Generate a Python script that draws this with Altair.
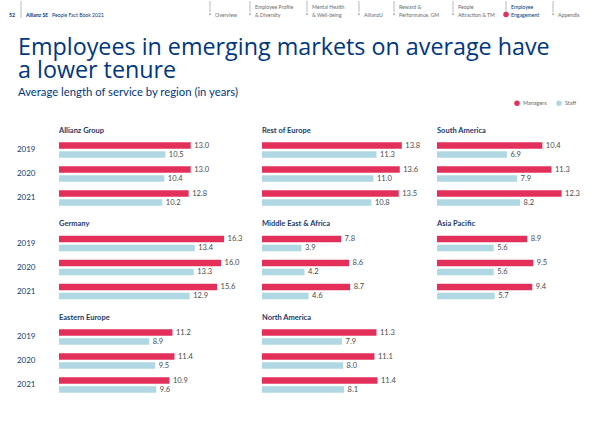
import altair as alt
import pandas as pd

# ---------------- data ----------------
regions = ["Allianz Group", "Rest of Europe", "South America",
           "Germany", "Middle East & Africa", "Asia Pacific",
           "Eastern Europe", "North America"]
years = ["2019", "2020", "2021"]
series = ["Managers", "Staff"]
managers = [
    [13.0, 13.0, 12.8],
    [13.8, 13.6, 13.5],
    [10.4, 11.3, 12.3],
    [16.3, 16.0, 15.6],
    [7.8, 8.6, 8.7],
    [8.9, 9.5, 9.4],
    [11.2, 11.4, 10.9],
    [11.3, 11.1, 11.4],
]
staff = [
    [10.5, 10.4, 10.2],
    [11.3, 11.0, 10.8],
    [6.9, 7.9, 8.2],
    [13.4, 13.3, 12.9],
    [3.9, 4.2, 4.6],
    [5.6, 5.6, 5.7],
    [8.9, 9.5, 9.6],
    [7.9, 8.0, 8.1],
]

title_text = "Employees in emerging markets on average have\na lower tenure"
subtitle = "Average length of service by region (in years)"

nav_line1 = ["", "Employee Profile", "Mental Health", "", "Reward &", "People", "Employee", ""]
nav_line2 = ["Overview", "& Diversity", "& Well-being", "AllianzU", "Performance, GM",
             "Attraction & TM", "Engagement", "Appendix"]
nav_active = [False, False, False, False, False, False, True, False]

# ---------------- style ----------------
FONT = "Lato"
TITLE_FONT = "Open Sans"
RED = "#E3305A"
LIGHT = "#AFD8E3"
NAVY = "#003781"
DARK = "#1B3A6B"
GRAY = "#4A4A4A"
NAVGRAY = "#6B6B6B"

PX_PER_UNIT = 10.13
col_widths = [193, 165, 150]
PANEL_H = 72
X0 = 59  # left extent reserved for the year labels; header is aligned on it

# ---------------- header panel ----------------
nav_x = [210, 250, 307, 359, 394, 453, 506, 553]
nav_df = pd.DataFrame({
    "x": nav_x,
    "tx": [v + 5 for v in nav_x],
    "l1": nav_line1,
    "l2": nav_line2,
    "active": nav_active,
})
nav_df["color"] = [NAVY if a else NAVGRAY for a in nav_active]

HW, HH = 600, 112
hx = alt.Scale(domain=[0, HW], range=[-X0, HW - X0])

nav_rules = alt.Chart(nav_df).mark_rule(color="#8A8A8A", strokeWidth=0.6).encode(
    x=alt.X("x:Q", scale=hx, axis=None),
    y=alt.value(0), y2=alt.value(11),
)
nav_pts = alt.Chart(nav_df[~nav_df["active"]]).mark_point(
    shape="triangle-down", filled=True, size=5, color="#555555").encode(
    x=alt.X("x:Q", scale=hx, axis=None), y=alt.value(13.5))
nav_dot = alt.Chart(nav_df[nav_df["active"]]).mark_circle(size=30, color=RED, opacity=1).encode(
    x=alt.X("x:Q", scale=hx, axis=None), y=alt.value(13.5))
nav_t1 = alt.Chart(nav_df).mark_text(align="left", baseline="middle", font=FONT, fontSize=5.2).encode(
    x=alt.X("tx:Q", scale=hx, axis=None), y=alt.value(6), text="l1:N",
    color=alt.Color("color:N", scale=None))
nav_t2 = alt.Chart(nav_df).mark_text(align="left", baseline="middle", font=FONT, fontSize=5.2).encode(
    x=alt.X("tx:Q", scale=hx, axis=None), y=alt.value(13.5), text="l2:N",
    color=alt.Color("color:N", scale=None))

left_df = pd.DataFrame({"x": [9, 26], "t": ["52", "Allianz SE"]})
left_bold = alt.Chart(left_df).mark_text(align="left", baseline="middle", font=FONT, fontSize=5.1,
                                         fontWeight="bold", color=NAVY).encode(
    x=alt.X("x:Q", scale=hx, axis=None), y=alt.value(13.5), text="t:N")
left_plain = alt.Chart(pd.DataFrame({"x": [52], "t": ["People Fact Book 2021"]})).mark_text(
    align="left", baseline="middle", font=FONT, fontSize=5.1, color=NAVY).encode(
    x=alt.X("x:Q", scale=hx, axis=None), y=alt.value(13.5), text="t:N")
left_rule = alt.Chart(pd.DataFrame({"x": [21]})).mark_rule(color="#8A8A8A", strokeWidth=0.6).encode(
    x=alt.X("x:Q", scale=hx, axis=None), y=alt.value(0), y2=alt.value(17))

title_mark = alt.Chart(pd.DataFrame({"t": [title_text]})).mark_text(
    align="left", baseline="alphabetic", font=TITLE_FONT, fontSize=23.3, color=NAVY,
    lineBreak="\n", lineHeight=23.5).encode(
    x=alt.value(18 - X0), y=alt.value(53.5), text="t:N")
sub_mark = alt.Chart(pd.DataFrame({"t": [subtitle]})).mark_text(
    align="left", baseline="alphabetic", font=FONT, fontSize=11.3, color=NAVY).encode(
    x=alt.value(18 - X0), y=alt.value(94.5), text="t:N")

header = alt.layer(nav_rules, nav_pts, nav_dot, nav_t1, nav_t2, left_bold, left_plain,
                   left_rule, title_mark, sub_mark).properties(width=HW - X0, height=HH)

# ---------------- panels ----------------
color_scale = alt.Scale(domain=series, range=[RED, LIGHT])


def panel(i, col):
    rows = []
    for y, m, s in zip(years, managers[i], staff[i]):
        rows.append({"year": y, "series": "Managers", "value": m})
        rows.append({"year": y, "series": "Staff", "value": s})
    df = pd.DataFrame(rows)
    w = col_widths[col]
    xs = alt.Scale(domain=[0, w / PX_PER_UNIT], nice=False, zero=True)
    if col == 0:
        yaxis = alt.Axis(title=None, domain=False, ticks=False, labelPadding=24, minExtent=X0,
                         labelFontSize=8, labelColor=DARK, labelFont=FONT, labelAlign="right")
    else:
        yaxis = None
    base = alt.Chart(df).encode(
        y=alt.Y("year:N", sort=years, scale=alt.Scale(paddingInner=0.25, paddingOuter=0.125),
                axis=yaxis),
        yOffset=alt.YOffset("series:N", sort=series,
                            scale=alt.Scale(paddingInner=0.26, paddingOuter=0.13)),
        x=alt.X("value:Q", scale=xs, axis=None),
    )
    bars = base.mark_bar().encode(
        color=alt.Color("series:N", scale=color_scale, sort=series,
                        legend=alt.Legend(title=None)))
    labels = base.mark_text(align="left", baseline="middle", dx=3.5, font=FONT, fontSize=7.5,
                            color=GRAY).encode(text=alt.Text("value:Q", format=".1f"))
    return alt.layer(bars, labels).properties(
        width=w, height=PANEL_H,
        title=alt.TitleParams(regions[i], anchor="start", frame="group", font=FONT,
                              fontSize=7.5, fontWeight="bold", color=DARK, offset=4))


row1 = alt.hconcat(panel(0, 0), panel(1, 1), panel(2, 2), spacing=10)
row2 = alt.hconcat(panel(3, 0), panel(4, 1), panel(5, 2), spacing=10)
row3 = alt.hconcat(panel(6, 0), panel(7, 1), spacing=10)
grid = alt.vconcat(row1, row2, row3, spacing=9.5)

chart = alt.vconcat(header, grid, spacing=13).properties(
    padding={"left": 0, "top": 0, "right": 0, "bottom": 0},
    background="white",
).configure_view(stroke=None).configure_legend(
    orient="none", legendX=455, legendY=99, direction="horizontal",
    symbolType="circle", symbolSize=30, symbolStrokeWidth=0,
    labelFont=FONT, labelFontSize=5.5, labelColor=NAVGRAY, columnPadding=9,
    labelOffset=3,
).configure_text(font=FONT)

chart.save("out.html", embed_options={"renderer": "svg", "actions": False})
